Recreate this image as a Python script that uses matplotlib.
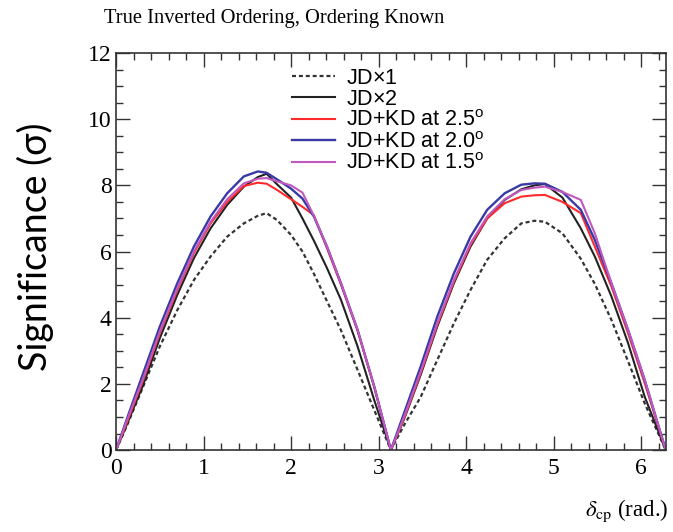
import matplotlib
matplotlib.use("Agg")
import matplotlib.pyplot as plt
from matplotlib.ticker import MultipleLocator
from matplotlib.font_manager import FontProperties

plt.rcParams['mathtext.fontset'] = 'custom'
plt.rcParams['mathtext.rm'] = 'Liberation Sans'
plt.rcParams['mathtext.it'] = 'Liberation Sans:italic'

delta_cp = [0.00, 0.12, 0.31, 0.50, 0.70, 0.89, 1.08, 1.27, 1.46, 1.62, 1.72, 1.84, 2.00, 2.13,
            2.26, 2.41, 2.57, 2.76, 2.95, 3.14,
            3.29, 3.48, 3.67, 3.86, 4.05, 4.24, 4.44, 4.63, 4.78, 4.90, 5.10, 5.31, 5.47, 5.66,
            5.85, 6.04, 6.28]

jd_x1 = [0, 0.71, 1.92, 3.13, 4.23, 5.14, 5.85, 6.45, 6.85, 7.08, 7.16, 6.95, 6.50, 6.00,
         5.33, 4.50, 3.62, 2.42, 1.21, 0,
         0.75, 1.60, 2.72, 3.83, 4.84, 5.75, 6.40, 6.85, 6.93, 6.90, 6.55, 5.78, 5.02, 3.93,
         2.68, 1.41, 0]

jd_x2 = [0, 0.75, 1.97, 3.38, 4.69, 5.80, 6.70, 7.41, 7.96, 8.25, 8.35, 8.03, 7.63, 7.00,
         6.33, 5.50, 4.54, 3.13, 1.51, 0,
         0.93, 2.27, 3.73, 5.04, 6.15, 7.00, 7.56, 7.88, 8.00, 8.04, 7.63, 6.70, 5.85, 4.64,
         3.23, 1.61, 0]

kd_25 = [0, 0.81, 2.12, 3.53, 4.84, 5.95, 6.85, 7.50, 7.98, 8.08, 8.05, 7.86, 7.58, 7.35,
         7.10, 6.10, 5.00, 3.60, 1.90, 0,
         0.96, 2.32, 3.78, 5.09, 6.20, 7.00, 7.46, 7.66, 7.70, 7.71, 7.50, 7.16, 6.15, 4.94,
         3.53, 2.02, 0]

kd_20 = [0, 0.91, 2.32, 3.73, 5.04, 6.15, 7.06, 7.76, 8.27, 8.42, 8.38, 8.18, 7.90, 7.60,
         7.06, 6.15, 5.04, 3.63, 1.92, 0,
         1.11, 2.52, 4.03, 5.34, 6.45, 7.26, 7.76, 8.02, 8.06, 8.05, 7.80, 7.26, 6.35, 5.04,
         3.63, 2.12, 0]

kd_15 = [0, 0.86, 2.17, 3.58, 4.89, 6.00, 6.90, 7.58, 8.06, 8.20, 8.22, 8.12, 8.00, 7.78,
         7.08, 6.15, 5.04, 3.63, 1.92, 0,
         1.00, 2.37, 3.83, 5.14, 6.25, 7.06, 7.58, 7.86, 7.93, 7.96, 7.80, 7.56, 6.55, 5.04,
         3.63, 2.12, 0]

labels = ['JD$\\times$1', 'JD$\\times$2', 'JD+KD at 2.5$^{\\rm o}$',
          'JD+KD at 2.0$^{\\rm o}$', 'JD+KD at 1.5$^{\\rm o}$']

fig = plt.figure(figsize=(6.73, 5.32), dpi=100)
ax = fig.add_axes([0.1724, 0.154, 0.8172, 0.7464])

ax.plot(delta_cp, jd_x1, color='#333333', lw=1.6, dashes=(1.8, 1.3), label=labels[0])
ax.plot(delta_cp, jd_x2, color='#222222', lw=1.5, label=labels[1])
ax.plot(delta_cp, kd_25, color='#ff2a2a', lw=1.5, label=labels[2])
ax.plot(delta_cp, kd_20, color='#3a3aa6', lw=1.7, label=labels[3])
ax.plot(delta_cp, kd_15, color='#c058c0', lw=1.5, label=labels[4])

ax.set_xlim(0, 6.2832)
ax.set_ylim(0, 12)
ax.xaxis.set_major_locator(MultipleLocator(1))
ax.xaxis.set_minor_locator(MultipleLocator(0.2))
ax.yaxis.set_major_locator(MultipleLocator(2))
ax.yaxis.set_minor_locator(MultipleLocator(0.5))
ax.tick_params(which='both', direction='in', top=True, right=True, width=1.0, color='#333333')
ax.tick_params(which='major', length=10)
ax.tick_params(which='minor', length=5)
ax.tick_params(axis='x', pad=6)
ax.tick_params(axis='y', pad=3)
for lab in ax.get_xticklabels() + ax.get_yticklabels():
    lab.set_fontfamily('Liberation Serif')
    lab.set_fontsize(17)
for s in ax.spines.values():
    s.set_linewidth(1.2)
    s.set_color('#333333')

leg = ax.legend(loc='upper left', bbox_to_anchor=(0.305, 0.985), frameon=False,
                prop=FontProperties(family='Liberation Sans', size=15.5, math_fontfamily='custom'),
                handlelength=2.0, handletextpad=0.5, labelspacing=0.02, borderaxespad=0)

fig.text(0.408, 0.966, 'True Inverted Ordering, Ordering Known', ha='center', va='center',
         fontfamily='Liberation Serif', fontsize=14.8)
fig.text(0.052, 0.536, 'Significance (\u03c3)', rotation=90, ha='center', va='center',
         fontfamily='Lato', fontsize=27)
fig.text(0.993, 0.04, '$\\delta_{\\rm cp}$ (rad.)', ha='right', va='center',
         fontfamily='Liberation Serif', fontsize=16.5, math_fontfamily='stix')

fig.savefig('out.png', dpi=100)
